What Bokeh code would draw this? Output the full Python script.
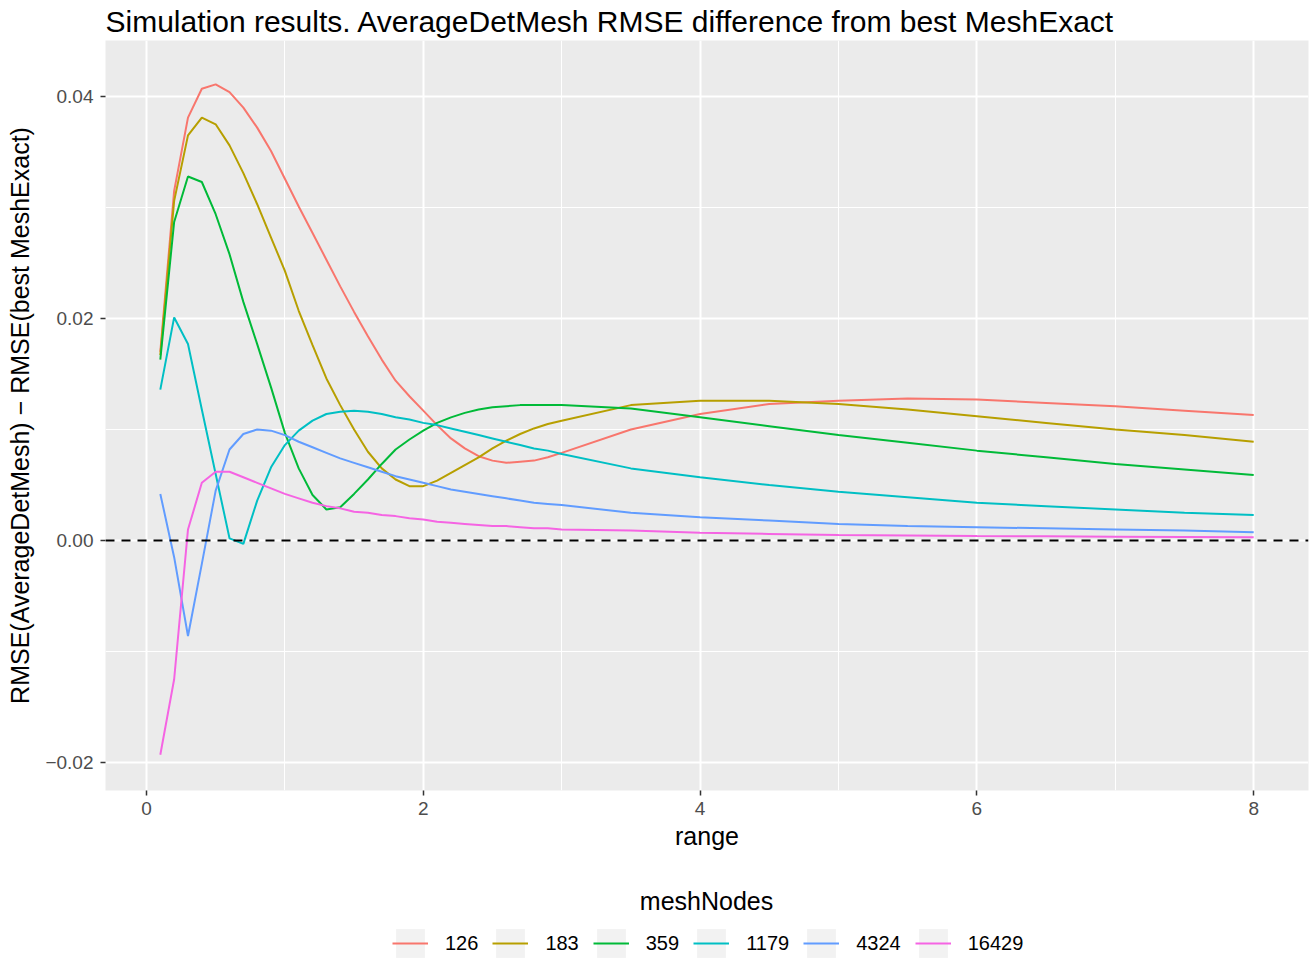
from bokeh.plotting import figure
from bokeh.layouts import column
from bokeh.models import Span, FixedTicker, Legend, LegendItem, Label, Range1d
from bokeh.embed import file_html
from bokeh.resources import INLINE

FONT = "Liberation Sans"

range_vals = [0.1, 0.2, 0.3, 0.4, 0.5, 0.6, 0.7, 0.8, 0.9, 1.0,
              1.1, 1.2, 1.3, 1.4, 1.5, 1.6, 1.7, 1.8, 1.9, 2.0,
              2.1, 2.2, 2.3, 2.4, 2.5, 2.6, 2.7, 2.8, 2.9, 3.0,
              3.5, 4.0, 4.5, 5.0, 5.5, 6.0, 6.5, 7.0, 7.5, 8.0]

nodes_126 = [0.0170, 0.0315, 0.0381, 0.0407, 0.0411, 0.0404, 0.0390, 0.0372, 0.0351, 0.0326,
             0.0301, 0.0277, 0.0253, 0.0229, 0.0206, 0.0184, 0.0163, 0.0144, 0.0130, 0.0117,
             0.0104, 0.0092, 0.0083, 0.0076, 0.0072, 0.0070, 0.0071, 0.0072, 0.0075, 0.0079,
             0.0100, 0.0114, 0.0123, 0.0126, 0.0128, 0.0127, 0.0124, 0.0121, 0.0117, 0.0113]

nodes_183 = [0.0167, 0.0306, 0.0365, 0.0381, 0.0375, 0.0356, 0.0331, 0.0303, 0.0273, 0.0243,
             0.0207, 0.0176, 0.0146, 0.0122, 0.0100, 0.0080, 0.0065, 0.0055, 0.0049, 0.0049,
             0.0054, 0.0061, 0.0068, 0.0075, 0.0083, 0.0090, 0.0096, 0.0101, 0.0105, 0.0108,
             0.0122, 0.0126, 0.0126, 0.0123, 0.0118, 0.0112, 0.0106, 0.0100, 0.0095, 0.0089]

nodes_359 = [0.0163, 0.0287, 0.0328, 0.0323, 0.0294, 0.0258, 0.0215, 0.0177, 0.0138, 0.0097,
             0.0065, 0.0041, 0.0028, 0.0030, 0.0042, 0.0055, 0.0069, 0.0082, 0.0091, 0.0099,
             0.0106, 0.0111, 0.0115, 0.0118, 0.0120, 0.0121, 0.0122, 0.0122, 0.0122, 0.0122,
             0.0119, 0.0111, 0.0103, 0.0095, 0.0088, 0.0081, 0.0075, 0.0069, 0.0064, 0.0059]

nodes_1179 = [0.0136, 0.0201, 0.0177, 0.0118, 0.0060, 0.0002, -0.0003, 0.0036, 0.0066, 0.0086,
              0.0099, 0.0108, 0.0114, 0.0116, 0.0117, 0.0116, 0.0114, 0.0111, 0.0109, 0.0106,
              0.0104, 0.0101, 0.0098, 0.0095, 0.0092, 0.0089, 0.0086, 0.0083, 0.0081, 0.0078,
              0.0065, 0.0057, 0.0050, 0.0044, 0.0039, 0.0034, 0.0031, 0.0028, 0.0025, 0.0023]

nodes_4324 = [0.0042, -0.0015, -0.0086, -0.0021, 0.0045, 0.0082, 0.0096, 0.0100, 0.0099, 0.0095,
              0.0089, 0.0084, 0.0079, 0.0074, 0.0070, 0.0066, 0.0062, 0.0058, 0.0055, 0.0052,
              0.0049, 0.0046, 0.0044, 0.0042, 0.0040, 0.0038, 0.0036, 0.0034, 0.0033, 0.0032,
              0.0025, 0.0021, 0.0018, 0.0015, 0.0013, 0.0012, 0.0011, 0.0010, 0.0009, 0.00075]

nodes_16429 = [-0.0193, -0.0125, 0.0010, 0.0052, 0.0062, 0.0062, 0.0057, 0.0052, 0.0047, 0.0042,
               0.0038, 0.0034, 0.0031, 0.0029, 0.0026, 0.0025, 0.0023, 0.0022, 0.0020, 0.0019,
               0.0017, 0.0016, 0.0015, 0.0014, 0.0013, 0.0013, 0.0012, 0.0011, 0.0011, 0.0010,
               0.0009, 0.0007, 0.0006, 0.0005, 0.00045, 0.0004, 0.00038, 0.00035, 0.00032, 0.0003]

series_labels = ["126", "183", "359", "1179", "4324", "16429"]
series_values = [nodes_126, nodes_183, nodes_359, nodes_1179, nodes_4324, nodes_16429]
series_colors = ["#F8766D", "#B79F00", "#00BA38", "#00BFC4", "#619CFF", "#F564E3"]

x_ticks = [0, 2, 4, 6, 8]
x_minor = [1, 3, 5, 7]
y_ticks = [-0.02, 0.0, 0.02, 0.04]
y_minor = [-0.01, 0.01, 0.03]
y_tick_labels = {-0.02: "\u22120.02", 0.0: "0.00", 0.02: "0.02", 0.04: "0.04"}

# ---------------- main plot ----------------
p = figure(frame_width=1203, frame_height=750, output_backend="svg", toolbar_location=None,
           x_range=Range1d(-0.296, 8.396), y_range=Range1d(-0.02252, 0.04505),
           min_border_left=105, min_border_right=6, min_border_top=40, min_border_bottom=70)

p.title.text = "Simulation results. AverageDetMesh RMSE difference from best MeshExact"
p.title.text_font = FONT
p.title.text_font_size = "30px"
p.title.text_font_style = "normal"
p.title.text_color = "black"
p.title.align = "left"
p.title.standoff = 5

p.background_fill_color = "#EBEBEB"
p.border_fill_color = "white"
p.outline_line_color = None

for ax in (p.xaxis[0], p.yaxis[0]):
    ax.axis_line_color = None
    ax.major_tick_line_color = "#333333"
    ax.major_tick_line_width = 1.5
    ax.major_tick_out = 5
    ax.major_tick_in = 0
    ax.minor_tick_line_color = None
    ax.major_label_text_font = FONT
    ax.major_label_text_font_size = "19px"
    ax.major_label_text_color = "#4D4D4D"
    ax.axis_label_text_font = FONT
    ax.axis_label_text_font_size = "25px"
    ax.axis_label_text_font_style = "normal"
    ax.axis_label_text_color = "black"

p.xaxis.ticker = FixedTicker(ticks=x_ticks, minor_ticks=x_minor)
p.yaxis.ticker = FixedTicker(ticks=y_ticks, minor_ticks=y_minor)
p.yaxis.major_label_overrides = y_tick_labels
p.xaxis.axis_label = "range"
p.yaxis.axis_label = "RMSE(AverageDetMesh) \u2212 RMSE(best MeshExact)"
p.xaxis.major_label_standoff = 6
p.yaxis.major_label_standoff = 7
p.xaxis.axis_label_standoff = 4
p.yaxis.axis_label_standoff = 8

for g in (p.xgrid[0], p.ygrid[0]):
    g.grid_line_color = "white"
    g.grid_line_width = 2
    g.minor_grid_line_color = "white"
    g.minor_grid_line_width = 1

for vals, col in zip(series_values, series_colors):
    p.line(range_vals, vals, line_color=col, line_width=2)

p.add_layout(Span(location=0, dimension="width", line_color="black",
                  line_width=2, line_dash="9 7"))

# ---------------- legend strip (frame aligned with the main plot) ----------------
lg = figure(width=1314, height=101, output_backend="svg", toolbar_location=None,
            x_range=Range1d(105, 1308), y_range=Range1d(0, 101),
            x_axis_location=None, y_axis_location=None,
            min_border_left=0, min_border_right=0, min_border_top=0, min_border_bottom=0)
lg.outline_line_color = None
lg.background_fill_color = "white"
lg.border_fill_color = "white"
lg.xgrid.visible = False
lg.ygrid.visible = False

# legend-only renderers, placed outside the visible strip
key_bg = lg.quad(left=[-50], right=[-40], bottom=[-50], top=[-40],
                 fill_color="#F2F2F2", line_color=None)
items = []
for lab, col in zip(series_labels, series_colors):
    r = lg.line(x=[-50, -40], y=[-50, -50], line_color=col, line_width=2)
    items.append(LegendItem(label=lab, renderers=[key_bg, r]))

lg.add_layout(Label(x=706, y=61, text="meshNodes", text_align="center",
                    text_baseline="middle", text_font=FONT, text_font_size="25px",
                    text_color="black"))

legend = Legend(items=items, orientation="horizontal", location=(287, 0),
                glyph_width=36, glyph_height=36, label_standoff=17, spacing=14,
                label_text_font=FONT, label_text_font_size="20px", label_text_color="black",
                border_line_color=None, background_fill_alpha=0, padding=0, margin=0)
lg.add_layout(legend, "center")

layout = column(p, lg, spacing=0)
open("out.html", "w").write(file_html(layout, INLINE))
